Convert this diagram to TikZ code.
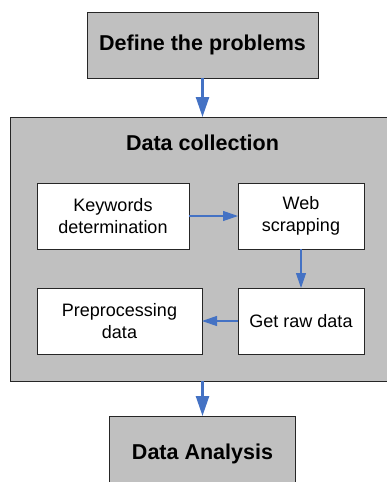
\documentclass[tikz,border=0pt]{standalone}
\usepackage{fontspec}
\setmainfont{Liberation Sans}
\usepackage{tikz}
\usetikzlibrary{arrows.meta, positioning}
\definecolor{boxgray}{RGB}{192,192,192}
\definecolor{flowblue}{RGB}{68,114,196}

\begin{document}
\begin{tikzpicture}[
    x=1pt, y=-1pt,
    stage/.style={rectangle, draw=black!85, line width=1pt, fill=boxgray, outer sep=0pt, align=center, font=\fontsize{21.5}{26}\selectfont\bfseries},
    task/.style={rectangle, draw=black!85, line width=1pt, fill=white, outer sep=0pt, minimum height=66pt, align=center, font=\fontsize{18}{21.6}\selectfont},
    mainarrow/.style={-{Triangle[length=20pt, width=13pt]}, line width=2.5pt, draw=flowblue, fill=flowblue},
    arrow/.style={-{Triangle[length=15pt, width=10pt]}, line width=1.2pt, draw=flowblue, fill=flowblue}
]
\useasboundingbox (0,0) rectangle (387,482);
\clip (0,0) rectangle (387,482);

\node[stage, minimum width=231pt, minimum height=66pt] (problems) at (202.5,45) {Define the problems};
\node[stage, minimum width=384pt, minimum height=264pt, below=39pt of problems] (collection) {};
\node[font=\fontsize{21.5}{26}\selectfont\bfseries] (collecttitle) at (202.5,143) {Data collection};
\node[stage, minimum width=186pt, minimum height=80pt, below=35pt of collection] (analysis) {\raisebox{8pt}{Data Analysis}};

\node[task, minimum width=152pt] (keywords) at (113,216) {Keywords\\determination};
\node[task, minimum width=126pt, right=49pt of keywords] (scrapping) {Web\\scrapping};
\node[task, minimum width=126pt, below=39pt of scrapping] (rawdata) {Get raw data};
\node[task, minimum width=165pt, left=36pt of rawdata] (preprocess) {Preprocessing\\data};

\draw[mainarrow] (problems) -- (collection);
\draw[mainarrow] (collection) -- (analysis);
\draw[arrow] (keywords) -- (scrapping);
\draw[arrow] (scrapping) -- (rawdata);
\draw[arrow] (rawdata) -- (preprocess);

\end{tikzpicture}
\end{document}
